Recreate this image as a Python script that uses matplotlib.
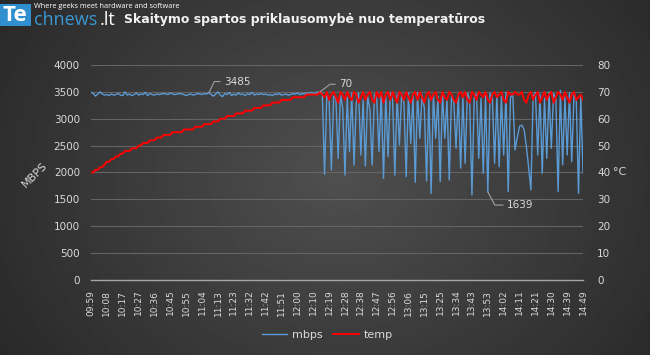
import numpy as np
import matplotlib
matplotlib.use("Agg")
import matplotlib.pyplot as plt
from matplotlib.patches import Rectangle
from matplotlib.lines import Line2D

# duomenys nuskaityti nuo paveikslo
mbps = [
    3490, 3470, 3420, 3460, 3500, 3460, 3440, 3450, 3430, 3460,
    3440, 3450, 3470, 3440, 3430, 3500, 3440, 3460, 3430, 3450,
    3480, 3440, 3460, 3450, 3490, 3430, 3470, 3450, 3440, 3460,
    3450, 3460, 3470, 3460, 3450, 3480, 3460, 3450, 3460, 3470,
    3460, 3450, 3430, 3450, 3460, 3440, 3450, 3470, 3460, 3450,
    3470, 3460, 3485, 3450, 3420, 3460, 3500, 3440, 3410, 3470,
    3450, 3490, 3430, 3460, 3440, 3480, 3450, 3460, 3430, 3470,
    3450, 3490, 3440, 3460, 3450, 3470, 3450, 3460, 3440, 3450,
    3430, 3460, 3450, 3470, 3440, 3450, 3460, 3440, 3450, 3470,
    3460, 3480, 3450, 3470, 3460, 3480, 3470, 3490, 3480, 3470,
    3500, 3480, 3480, 1966, 3440, 3350, 2047, 3420, 3380, 2264,
    3450, 3200, 1953, 3400, 2388, 3470, 2140, 3300, 3480, 2326,
    3350, 2121, 3420, 3160, 2140, 3460, 3380, 2390, 3490, 1892,
    3420, 2295, 3480, 3350, 1953, 3450, 2512, 3470, 3300, 1922,
    3480, 2543, 3430, 1817, 3490, 2636, 3440, 3200, 1842, 3380,
    1612, 3460, 2636, 3420, 1829, 3490, 2636, 3350, 1860, 3440,
    3300, 2450, 3460, 2078, 3410, 2171, 3480, 3350, 1581, 3400,
    3460, 2264, 3380, 1985, 3430, 1639, 3470, 3380, 2171, 3450,
    2109, 3420, 2326, 3490, 1643, 3400, 3460, 2419, 2650, 2860,
    2880, 2800, 2481, 2100, 1674, 3420, 3490, 2326, 3460, 1985,
    3380, 2264, 3500, 2450, 3470, 3380, 1643, 3530, 2140, 3410,
    2326, 3480, 2200, 3440, 3350, 1612, 3420, 1985,
]

temp = [
    40, 40, 41, 41, 42, 42, 43, 44, 44, 45,
    45, 46, 46, 47, 47, 48, 48, 48, 49, 49,
    49, 50, 50, 51, 51, 51, 52, 52, 52, 53,
    53, 53, 54, 54, 54, 54, 55, 55, 55, 55,
    55, 56, 56, 56, 56, 56, 57, 57, 57, 57,
    58, 58, 58, 58, 59, 59, 59, 60, 60, 60,
    61, 61, 61, 61, 62, 62, 62, 62, 63, 63,
    63, 63, 64, 64, 64, 64, 65, 65, 65, 65,
    66, 66, 66, 66, 67, 67, 67, 67, 67, 68,
    68, 68, 68, 68, 68, 69, 69, 69, 69, 69,
    69, 70, 69, 68, 70, 67, 69, 70, 68, 66,
    70, 69, 67, 70, 68, 67, 70, 69, 66, 68,
    70, 67, 69, 70, 67, 66, 70, 68, 70, 66,
    69, 70, 67, 70, 68, 66, 70, 69, 67, 70,
    68, 66, 69, 70, 67, 70, 68, 66, 69, 70,
    67, 69, 70, 67, 66, 70, 68, 67, 70, 69,
    67, 66, 69, 70, 68, 70, 67, 66, 70, 69,
    67, 70, 69, 68, 70, 67, 66, 69, 70, 68,
    69, 70, 67, 66, 70, 69, 69, 70, 69, 69,
    70, 67, 66, 69, 70, 67, 69, 70, 66, 68,
    70, 67, 69, 70, 66, 68, 70, 69, 67, 70,
    68, 66, 69, 70, 67, 68, 69, 67,
]

time_labels = [
    "09:59", "10:08", "10:17", "10:27", "10:36", "10:45", "10:55", "11:04",
    "11:13", "11:23", "11:32", "11:42", "11:51", "12:00", "12:10", "12:19",
    "12:28", "12:38", "12:47", "12:56", "13:06", "13:15", "13:25", "13:34",
    "13:43", "13:53", "14:02", "14:11", "14:21", "14:30", "14:39", "14:49",
]
label_step = 7

# indeksai, kuriuose yra anotacijos
note_mbps_hi = 52
note_mbps_lo = 175
note_temp = 101

txt_col = "#d9d9d9"
blue = "#5b9bd5"
red = "#ff0000"

fig = plt.figure(figsize=(6.5, 3.55), dpi=100)

# tamsus fonas su gradientu
bg = fig.add_axes([0, 0, 1, 1], zorder=0)
gx, gy = np.meshgrid(np.linspace(0, 1, 300), np.linspace(0, 1, 200))
r = np.sqrt(((gx - 0.52) / 0.62) ** 2 + ((gy - 0.5) / 0.95) ** 2)
grad = np.clip(0.31 - 0.15 * r, 0.14, 1)
bg.imshow(grad, extent=[0, 1, 0, 1], aspect="auto", cmap="gray", vmin=0, vmax=1, origin="lower")
bg.axis("off")

ax = fig.add_axes([0.14, 0.2113, 0.757, 0.6056], zorder=1)
ax.set_facecolor("none")
x = np.arange(len(mbps))
ax.plot(x, mbps, color=blue, lw=1.0)
ax.set_xlim(0, len(mbps) - 1)
ax.set_ylim(0, 4000)
ax.set_yticks(range(0, 4001, 500))
ax.yaxis.grid(True, color="#646464", lw=0.8)
ax.set_axisbelow(True)
ax.set_xticks(x[::label_step])
ax.set_xticklabels(time_labels, rotation=90, fontsize=6.5, color=txt_col)
ax.tick_params(axis="x", length=0, pad=7)
ax.tick_params(axis="y", length=0, pad=8, labelsize=7.5, labelcolor=txt_col)
for s in ["top", "left", "right"]:
    ax.spines[s].set_visible(False)
ax.spines["bottom"].set_color("#a6a6a6")
ax.spines["bottom"].set_linewidth(1.0)

ax2 = ax.twinx()
ax2.plot(x, temp, color=red, lw=1.4)
ax2.set_ylim(0, 80)
ax2.set_yticks(range(0, 81, 10))
ax2.tick_params(axis="y", length=0, pad=10, labelsize=7.5, labelcolor=txt_col)
for s in ax2.spines.values():
    s.set_visible(False)

# anotacijos
arrow = dict(arrowstyle="-", color="#a0a0a0", lw=0.8, shrinkA=1, shrinkB=0)
ax.annotate(str(mbps[note_mbps_hi]), xy=(note_mbps_hi, mbps[note_mbps_hi]), xytext=(11, 8),
            textcoords="offset points", ha="left", va="center", fontsize=7.5, color=txt_col,
            arrowprops=dict(arrow, connectionstyle="angle,angleA=0,angleB=64"))
ax.annotate(str(mbps[note_mbps_lo]), xy=(note_mbps_lo, mbps[note_mbps_lo]), xytext=(14, -9.5),
            textcoords="offset points", ha="left", va="center", fontsize=7.5, color=txt_col,
            arrowprops=dict(arrow, connectionstyle="angle,angleA=0,angleB=-62"))
ax2.annotate(str(temp[note_temp]), xy=(note_temp, temp[note_temp]), xytext=(14, 5.5),
             textcoords="offset points", ha="left", va="center", fontsize=7.5, color=txt_col,
             arrowprops=dict(arrow, connectionstyle="angle,angleA=0,angleB=37"))

fig.text(0.053, 0.507, "MBPS", rotation=45, ha="center", va="center", fontsize=8, color=txt_col)
fig.text(0.954, 0.515, "°C", ha="center", va="center", fontsize=8, color=txt_col)

handles = [Line2D([], [], color=blue, lw=1.0), Line2D([], [], color=red, lw=1.4)]
fig.legend(handles, ["mbps", "temp"], loc="center", bbox_to_anchor=(0.503, 0.056), ncol=2,
           frameon=False, fontsize=8, labelcolor=txt_col, handlelength=2.3, columnspacing=1.0,
           handletextpad=0.4)

# pavadinimas ir logotipas
fig.text(0.191, 0.944, "Skaitymo spartos priklausomybė nuo temperatūros", ha="left", va="center",
         fontsize=9, fontweight="bold", color="#f2f2f2")
fig.patches.append(Rectangle((0.0, 0.927), 0.048, 0.062, transform=fig.transFigure,
                             facecolor="#2f8fcf", edgecolor="none"))
fig.text(0.004, 0.957, "Te", ha="left", va="center", fontsize=16, fontweight="bold",
         color="white", family="Open Sans")
fig.text(0.052, 0.944, "chnews", ha="left", va="center", fontsize=13, color="#3a97d4",
         family="Open Sans")
fig.text(0.153, 0.944, ".lt", ha="left", va="center", fontsize=13, color="white",
         family="Open Sans")
fig.text(0.052, 0.983, "Where geeks meet hardware and software", ha="left", va="center",
         fontsize=5.3, color="white", family="Open Sans")

fig.savefig("out.png", dpi=100)
